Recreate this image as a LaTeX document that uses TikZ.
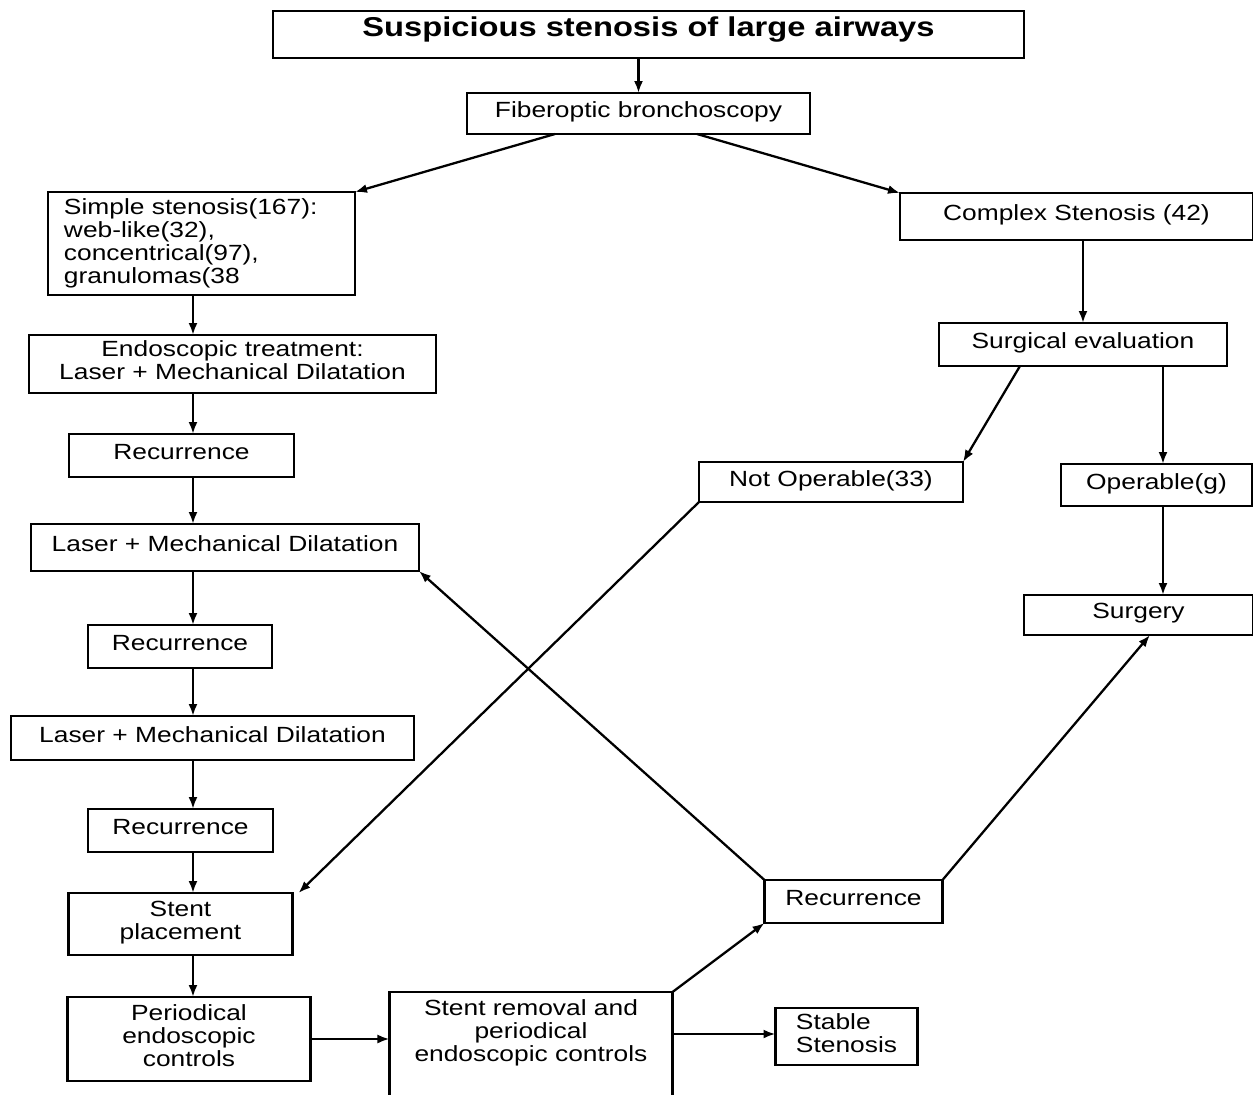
\documentclass[tikz,border=0pt]{standalone}
\usepackage{fontspec}
\setmainfont[FakeStretch=1.2]{Liberation Sans}
\usepackage{tikz}
\tikzset{flow box/.style={draw,line width=1.3pt,inner sep=0pt,outer sep=0pt,text depth=0.15cm,align=center,font=\fontsize{12.5}{13.1}\selectfont},
flow arrow/.style={-{Latex[length=2.4mm,width=1.8mm]},line width=1.3pt},
}
\usetikzlibrary{positioning,arrows.meta}

\begin{document}
\begin{tikzpicture}
			\path[use as bounding box,fill=white] (-12.97,0.69) rectangle (12.09,-21.19);
			
			%% top
			\node[flow box,minimum width=15.02cm,minimum height=0.94cm,text depth=0.3cm,font=\fontsize{15.5}{16}\selectfont\bfseries] (title) at (0,0) {Suspicious stenosis of large airways};
			\node[flow box,minimum width=6.86cm,minimum height=0.82cm] (fiber) [below=0.7cm of title,xshift=-0.2cm] {Fiberoptic bronchoscopy};
			\node[flow box,minimum width=6.14cm,minimum height=2.06cm,text width=5.5cm,text depth=,align=left] (simple) [below left=1.16cm and 2.24cm of fiber] {Simple stenosis(167):\\web-like(32),\\concentrical(97),\\granulomas(38};
			\node[flow box,minimum width=7.06cm,minimum height=0.94cm] (complex) [below right=1.18cm and 1.8cm of fiber] {Complex Stenosis (42)};
			
			%% left column
			\node[flow box,minimum width=8.14cm,minimum height=1.16cm] (endo) [below=0.8cm of simple,xshift=0.62cm] {Endoscopic treatment:\\Laser + Mechanical Dilatation};
			\node[flow box,minimum width=4.5cm,minimum height=0.86cm] (rec1) [below=0.82cm of endo,xshift=-1.02cm] {Recurrence};
			\node[flow box,minimum width=7.76cm,minimum height=0.94cm] (laser1) [below=0.94cm of rec1,xshift=0.87cm] {Laser + Mechanical Dilatation};
			\node[flow box,minimum width=3.68cm,minimum height=0.86cm] (rec2) [below=1.08cm of laser1,xshift=-0.9cm] {Recurrence};
			\node[flow box,minimum width=8.06cm,minimum height=0.88cm] (laser2) [below=0.96cm of rec2,xshift=0.65cm] {Laser + Mechanical Dilatation};
			\node[flow box,minimum width=3.7cm,minimum height=0.86cm] (rec3) [below=0.98cm of laser2,xshift=-0.64cm] {Recurrence};
			\node[flow box,minimum width=4.48cm,minimum height=1.24cm] (stent) [below=0.82cm of rec3] {Stent\\placement};
			\node[flow box,minimum width=4.86cm,minimum height=1.68cm] (periodical) [below=0.84cm of stent,xshift=0.17cm] {Periodical\\endoscopic\\controls};
			
			%% right column
			\node[flow box,minimum width=5.76cm,minimum height=0.86cm] (surgical) [below=1.66cm of complex,xshift=0.13cm] {Surgical evaluation};
			\node[flow box,minimum width=5.28cm,minimum height=0.8cm] (notop) [below=1.92cm of surgical,xshift=-5.04cm] {Not Operable(33)};
			\node[flow box,minimum width=3.82cm,minimum height=0.84cm] (operable) [below=1.96cm of surgical,xshift=1.47cm] {Operable(g)};
			\node[flow box,minimum width=4.58cm,minimum height=0.8cm] (surgery) [below=1.78cm of operable,xshift=-0.36cm] {Surgery};
			
			%% bottom row
			\node[flow box,minimum width=3.56cm,minimum height=0.86cm] (recR) [right=9.44cm of stent,yshift=0.45cm] {Recurrence};
			\node[flow box,draw=none,minimum width=5.66cm,minimum height=1.68cm] (removal) [right=1.58cm of periodical,yshift=0.1cm] {Stent removal and\\periodical\\endoscopic controls};
			\draw[line width=1.3pt] ([yshift=-0.4cm]removal.south west) |- (removal.north east) -- ([yshift=-0.4cm]removal.south east);
			\node[flow box,minimum width=2.84cm,minimum height=1.14cm,align=left] (stable) [right=2.06cm of removal,yshift=-0.05cm] {Stable\\Stenosis};
			
			\coordinate (spine) at ([xshift=-0.17cm]simple.south);
			\coordinate (rspine) at ([xshift=1.6cm]surgical.south);
			
			\path[flow arrow]
			(fiber.north |- title.south) edge (fiber.north)
			([xshift=-1.67cm]fiber.south) edge (simple.north east)
			([xshift=1.17cm]fiber.south) edge (complex.north west)
			(simple.south -| spine) edge (endo.north -| spine)
			(surgical.north |- complex.south) edge (surgical.north)
			(endo.south -| spine) edge (rec1.north -| spine)
			([xshift=-1.26cm]surgical.south) edge (notop.north east)
			(surgical.south -| rspine) edge (operable.north -| rspine)
			(rec1.south -| spine) edge (laser1.north -| spine)
			(operable.south -| rspine) edge (surgery.north -| rspine)
			(laser1.south -| spine) edge (rec2.north -| spine)
			(rec2.south -| spine) edge (laser2.north -| spine)
			(laser2.south -| spine) edge (rec3.north -| spine)
			(rec3.south -| spine) edge (stent.north -| spine)
			(notop.south west) edge ([xshift=0.12cm]stent.north east)
			(recR.north west) edge (laser1.south east)
			(recR.north east) edge ([xshift=0.23cm]surgery.south)
			(stent.south -| spine) edge (periodical.north -| spine)
			(periodical.east) edge (periodical.east -| removal.west)
			(removal.north east) edge (recR.south west)
			(removal.east) edge (removal.east -| stable.west)
			;
\end{tikzpicture}
\end{document}
